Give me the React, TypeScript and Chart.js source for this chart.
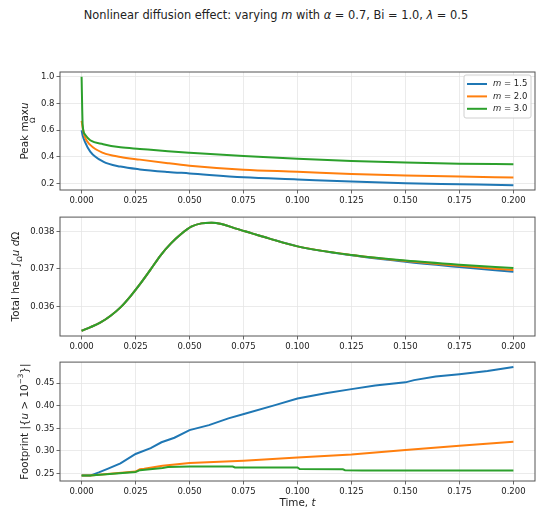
import { useEffect, useRef } from 'react';
import { Chart, registerables } from 'chart.js';

Chart.register(...registerables);

const FONT = '"DejaVu Sans", sans-serif';
const COLORS = ['#1f77b4', '#ff7f0e', '#2ca02c'];
const mValues = ['1.5', '2.0', '3.0'];

const xTicks = [0, 0.025, 0.05, 0.075, 0.1, 0.125, 0.15, 0.175, 0.2];

// Panel 1: peak max u
const peakTimes = [0, 0.0005, 0.0015, 0.004, 0.01, 0.018, 0.027, 0.04, 0.05, 0.075, 0.1, 0.125, 0.15, 0.175, 0.2];
const peakM15 = [0.6, 0.56, 0.515, 0.44, 0.365, 0.328, 0.307, 0.288, 0.277, 0.248, 0.232, 0.216, 0.204, 0.196, 0.188];
const peakM20 = [0.67, 0.62, 0.55, 0.49, 0.43, 0.4, 0.38, 0.353, 0.335, 0.305, 0.29, 0.273, 0.262, 0.253, 0.247];
const peakM30 = [1.0, 0.64, 0.57, 0.525, 0.495, 0.472, 0.46, 0.443, 0.432, 0.407, 0.386, 0.37, 0.358, 0.35, 0.345];
const peakYTicks = [0.2, 0.4, 0.6, 0.8, 1.0];

// Panel 2: total heat
const heatTimes = [
  0, 0.0039, 0.0086, 0.0133, 0.018, 0.0227, 0.0273, 0.032, 0.0367, 0.0414, 0.0461, 0.0508, 0.0555, 0.0602, 0.0648,
  0.0711, 0.0789, 0.0867, 0.1, 0.125, 0.15, 0.175, 0.2,
];
const heatM15 = [
  0.03535, 0.03544, 0.035564, 0.035742, 0.035973, 0.036276, 0.036613, 0.036987, 0.037369, 0.03768, 0.037929, 0.038124,
  0.038213, 0.03823, 0.038196, 0.03808, 0.037947, 0.037813, 0.0376, 0.03736, 0.03719, 0.03705, 0.03692,
];
const heatM20 = [
  0.03535, 0.03544, 0.035564, 0.035742, 0.035973, 0.036276, 0.036613, 0.036987, 0.037369, 0.03768, 0.037929, 0.038124,
  0.038213, 0.03823, 0.038196, 0.03808, 0.037947, 0.037813, 0.0376, 0.03737, 0.03721, 0.03708, 0.03697,
];
const heatM30 = [
  0.03535, 0.03544, 0.035564, 0.035742, 0.035973, 0.036276, 0.036613, 0.036987, 0.037369, 0.03768, 0.037929, 0.038124,
  0.038213, 0.03823, 0.038196, 0.03808, 0.037947, 0.037813, 0.0376, 0.03737, 0.03722, 0.03711, 0.03702,
];
const heatYTicks = [0.036, 0.037, 0.038];

// Panel 3: footprint
const footTimesM15 = [
  0, 0.004, 0.008, 0.012, 0.018, 0.025, 0.032, 0.037, 0.043, 0.05, 0.059, 0.068, 0.076, 0.09, 0.1, 0.113, 0.125, 0.136,
  0.15, 0.154, 0.164, 0.175, 0.188, 0.2,
];
const footM15 = [
  0.245, 0.245, 0.252, 0.26, 0.272, 0.293, 0.306, 0.319, 0.329, 0.346, 0.357, 0.372, 0.383, 0.402, 0.416, 0.428, 0.437,
  0.445, 0.452, 0.457, 0.465, 0.47, 0.477, 0.486,
];
const footTimesM20 = [0, 0.004, 0.025, 0.027, 0.029, 0.0375, 0.05, 0.075, 0.1, 0.125, 0.15, 0.175, 0.2];
const footM20 = [0.245, 0.245, 0.254, 0.259, 0.26, 0.267, 0.273, 0.278, 0.285, 0.292, 0.302, 0.3115, 0.32];
const footTimesM30 = [0, 0.004, 0.025, 0.027, 0.0375, 0.04, 0.05, 0.07, 0.071, 0.1, 0.101, 0.121, 0.122, 0.13, 0.2];
const footM30 = [0.245, 0.245, 0.253, 0.257, 0.262, 0.264, 0.265, 0.265, 0.263, 0.263, 0.2595, 0.259, 0.257, 0.2565, 0.2565];
const footYTicks = [0.25, 0.3, 0.35, 0.4, 0.45];

type Part = { t: string; it?: boolean; sub?: boolean; sup?: boolean; under?: boolean };

function drawRich(ctx: CanvasRenderingContext2D, parts: Part[], cx: number, cy: number, size: number, vertical: boolean) {
  ctx.save();
  ctx.translate(cx, cy);
  if (vertical) ctx.rotate(-Math.PI / 2);
  ctx.fillStyle = '#222';
  ctx.textBaseline = 'middle';
  ctx.textAlign = 'left';
  const font = (p: Part) => `${p.it ? 'italic ' : ''}${p.sub || p.sup || p.under ? size * 0.7 : size}px ${FONT}`;
  let total = 0;
  parts.forEach((p) => {
    if (p.under) return;
    ctx.font = font(p);
    total += ctx.measureText(p.t).width;
  });
  let x = -total / 2;
  let px = 0;
  let pw = 0;
  parts.forEach((p) => {
    ctx.font = font(p);
    const w = ctx.measureText(p.t).width;
    if (p.under) {
      ctx.fillText(p.t, px + (pw - w) / 2, size * 0.8);
      return;
    }
    const dy = p.sub ? size * 0.35 : p.sup ? -size * 0.4 : 0;
    ctx.fillText(p.t, x, dy);
    px = x;
    pw = w;
    x += w;
  });
  ctx.restore();
}

const framePlugin = {
  id: 'frame',
  afterDatasetsDraw(chart: Chart) {
    const { ctx, chartArea: a } = chart;
    ctx.save();
    ctx.strokeStyle = '#555';
    ctx.lineWidth = 1;
    ctx.strokeRect(a.left, a.top, a.right - a.left, a.bottom - a.top);
    ctx.restore();
  },
};

function labelPlugin(yParts: Part[], yX: number, xParts?: Part[], xY?: number) {
  return {
    id: 'labels',
    afterDraw(chart: Chart) {
      const { ctx, chartArea: a } = chart;
      drawRich(ctx, yParts, yX, (a.top + a.bottom) / 2, 10.4, true);
      if (xParts && xY !== undefined) drawRich(ctx, xParts, (a.left + a.right) / 2, xY, 10.4, false);
    },
  };
}

const legendPlugin = {
  id: 'innerLegend',
  afterDraw(chart: Chart) {
    const { ctx, chartArea: a } = chart;
    const left = a.right - 71;
    const top = a.top + 3;
    ctx.save();
    ctx.fillStyle = 'rgba(255,255,255,0.85)';
    ctx.strokeStyle = '#d0d0d0';
    ctx.lineWidth = 1;
    ctx.beginPath();
    ctx.roundRect(left, top, 67, 43, 2);
    ctx.fill();
    ctx.stroke();
    mValues.forEach((m, i) => {
      const y = top + 9 + i * 12.4;
      ctx.strokeStyle = COLORS[i];
      ctx.lineWidth = 2;
      ctx.beginPath();
      ctx.moveTo(left + 3, y);
      ctx.lineTo(left + 23, y);
      ctx.stroke();
      ctx.fillStyle = '#222';
      ctx.textBaseline = 'middle';
      ctx.font = `italic 8.5px ${FONT}`;
      ctx.fillText('m', left + 29, y);
      const mw = ctx.measureText('m').width;
      ctx.font = `8.5px ${FONT}`;
      ctx.fillText(' = ' + m, left + 29 + mw, y);
    });
    ctx.restore();
  },
};

interface Series {
  x: number[];
  y: number[];
}

interface PanelOpts {
  series: Series[];
  yMin: number;
  yMax: number;
  yTicks: number[];
  yDec: number;
  padTop: number;
  xHeight: number;
  smooth: boolean;
  plugins: any[];
}

function makePanel(canvas: HTMLCanvasElement, o: PanelOpts) {
  const tickFont = { family: FONT, size: 8.5 };
  const grid = { color: '#e6e6e6', lineWidth: 0.8, tickColor: '#444', tickLength: 3.5 };
  return new Chart(canvas, {
    type: 'line',
    data: {
      datasets: o.series.map((s, i) => ({
        label: 'm = ' + mValues[i],
        data: s.x.map((x, j) => ({ x, y: s.y[j] })),
        borderColor: COLORS[i],
        backgroundColor: COLORS[i],
        borderWidth: 2,
        pointRadius: 0,
        fill: false,
        tension: 0,
        cubicInterpolationMode: o.smooth ? 'monotone' : 'default',
        order: o.series.length - 1 - i,
      })),
    },
    options: {
      responsive: false,
      animation: false,
      layout: { padding: { top: o.padTop, right: 15, left: 0, bottom: 0 } },
      plugins: { legend: { display: false }, tooltip: { enabled: false } },
      scales: {
        x: {
          type: 'linear',
          min: -0.01,
          max: 0.21,
          afterBuildTicks: (s: any) => {
            s.ticks = xTicks.map((value) => ({ value }));
          },
          afterFit: (s: any) => {
            s.height = o.xHeight;
          },
          ticks: {
            callback: (v: any) => Number(v).toFixed(3),
            font: tickFont,
            color: '#222',
            padding: 2,
            maxRotation: 0,
            autoSkip: false,
          },
          grid,
          border: { display: false },
        },
        y: {
          type: 'linear',
          min: o.yMin,
          max: o.yMax,
          afterBuildTicks: (s: any) => {
            s.ticks = o.yTicks.map((value) => ({ value }));
          },
          afterFit: (s: any) => {
            s.width = 60;
          },
          ticks: {
            callback: (v: any) => Number(v).toFixed(o.yDec),
            font: tickFont,
            color: '#222',
            padding: 2,
          },
          grid,
          border: { display: false },
        },
      },
    },
    plugins: [framePlugin, ...o.plugins],
  } as any);
}

export default function App() {
  const r1 = useRef<HTMLCanvasElement>(null);
  const r2 = useRef<HTMLCanvasElement>(null);
  const r3 = useRef<HTMLCanvasElement>(null);

  useEffect(() => {
    if (!r1.current || !r2.current || !r3.current) return;
    const charts = [
      makePanel(r1.current, {
        series: [
          { x: peakTimes, y: peakM15 },
          { x: peakTimes, y: peakM20 },
          { x: peakTimes, y: peakM30 },
        ],
        yMin: 0.153,
        yMax: 1.035,
        yTicks: peakYTicks,
        yDec: 1,
        padTop: 12,
        xHeight: 20,
        smooth: true,
        plugins: [
          legendPlugin,
          labelPlugin([{ t: 'Peak ' }, { t: 'max' }, { t: 'Ω', under: true }, { t: 'u', it: true }], 25),
        ],
      }),
      makePanel(r2.current, {
        series: [
          { x: heatTimes, y: heatM15 },
          { x: heatTimes, y: heatM20 },
          { x: heatTimes, y: heatM30 },
        ],
        yMin: 0.03521,
        yMax: 0.03838,
        yTicks: heatYTicks,
        yDec: 3,
        padTop: 7,
        xHeight: 19,
        smooth: true,
        plugins: [
          labelPlugin(
            [{ t: 'Total heat ' }, { t: '∫' }, { t: 'Ω', sub: true }, { t: 'u', it: true }, { t: ' d', it: true }, { t: 'Ω' }],
            16
          ),
        ],
      }),
      makePanel(r3.current, {
        series: [
          { x: footTimesM15, y: footM15 },
          { x: footTimesM20, y: footM20 },
          { x: footTimesM30, y: footM30 },
        ],
        yMin: 0.233,
        yMax: 0.497,
        yTicks: footYTicks,
        yDec: 2,
        padTop: 7,
        xHeight: 35,
        smooth: false,
        plugins: [
          labelPlugin(
            [{ t: 'Footprint |{' }, { t: 'u', it: true }, { t: ' > 10' }, { t: '−3', sup: true }, { t: '}|' }],
            25,
            [{ t: 'Time, ' }, { t: 't', it: true }],
            148
          ),
        ],
      }),
    ];
    return () => charts.forEach((c) => c.destroy());
  }, []);

  return (
    <div style={{ position: 'absolute', left: 0, top: 0, width: 550, height: 516, background: '#fff', fontFamily: FONT }}>
      <div
        style={{
          position: 'absolute',
          top: 7,
          left: 1,
          width: 550,
          textAlign: 'center',
          fontSize: 11.4,
          lineHeight: '16px',
          color: '#222',
        }}
      >
        Nonlinear diffusion effect: varying <i>m</i> with <i>α</i> = 0.7, Bi = 1.0, <i>λ</i> = 0.5
      </div>
      <canvas ref={r1} width={550} height={150} style={{ position: 'absolute', left: 0, top: 60 }} />
      <canvas ref={r2} width={550} height={145} style={{ position: 'absolute', left: 0, top: 210 }} />
      <canvas ref={r3} width={550} height={161} style={{ position: 'absolute', left: 0, top: 355 }} />
    </div>
  );
}
